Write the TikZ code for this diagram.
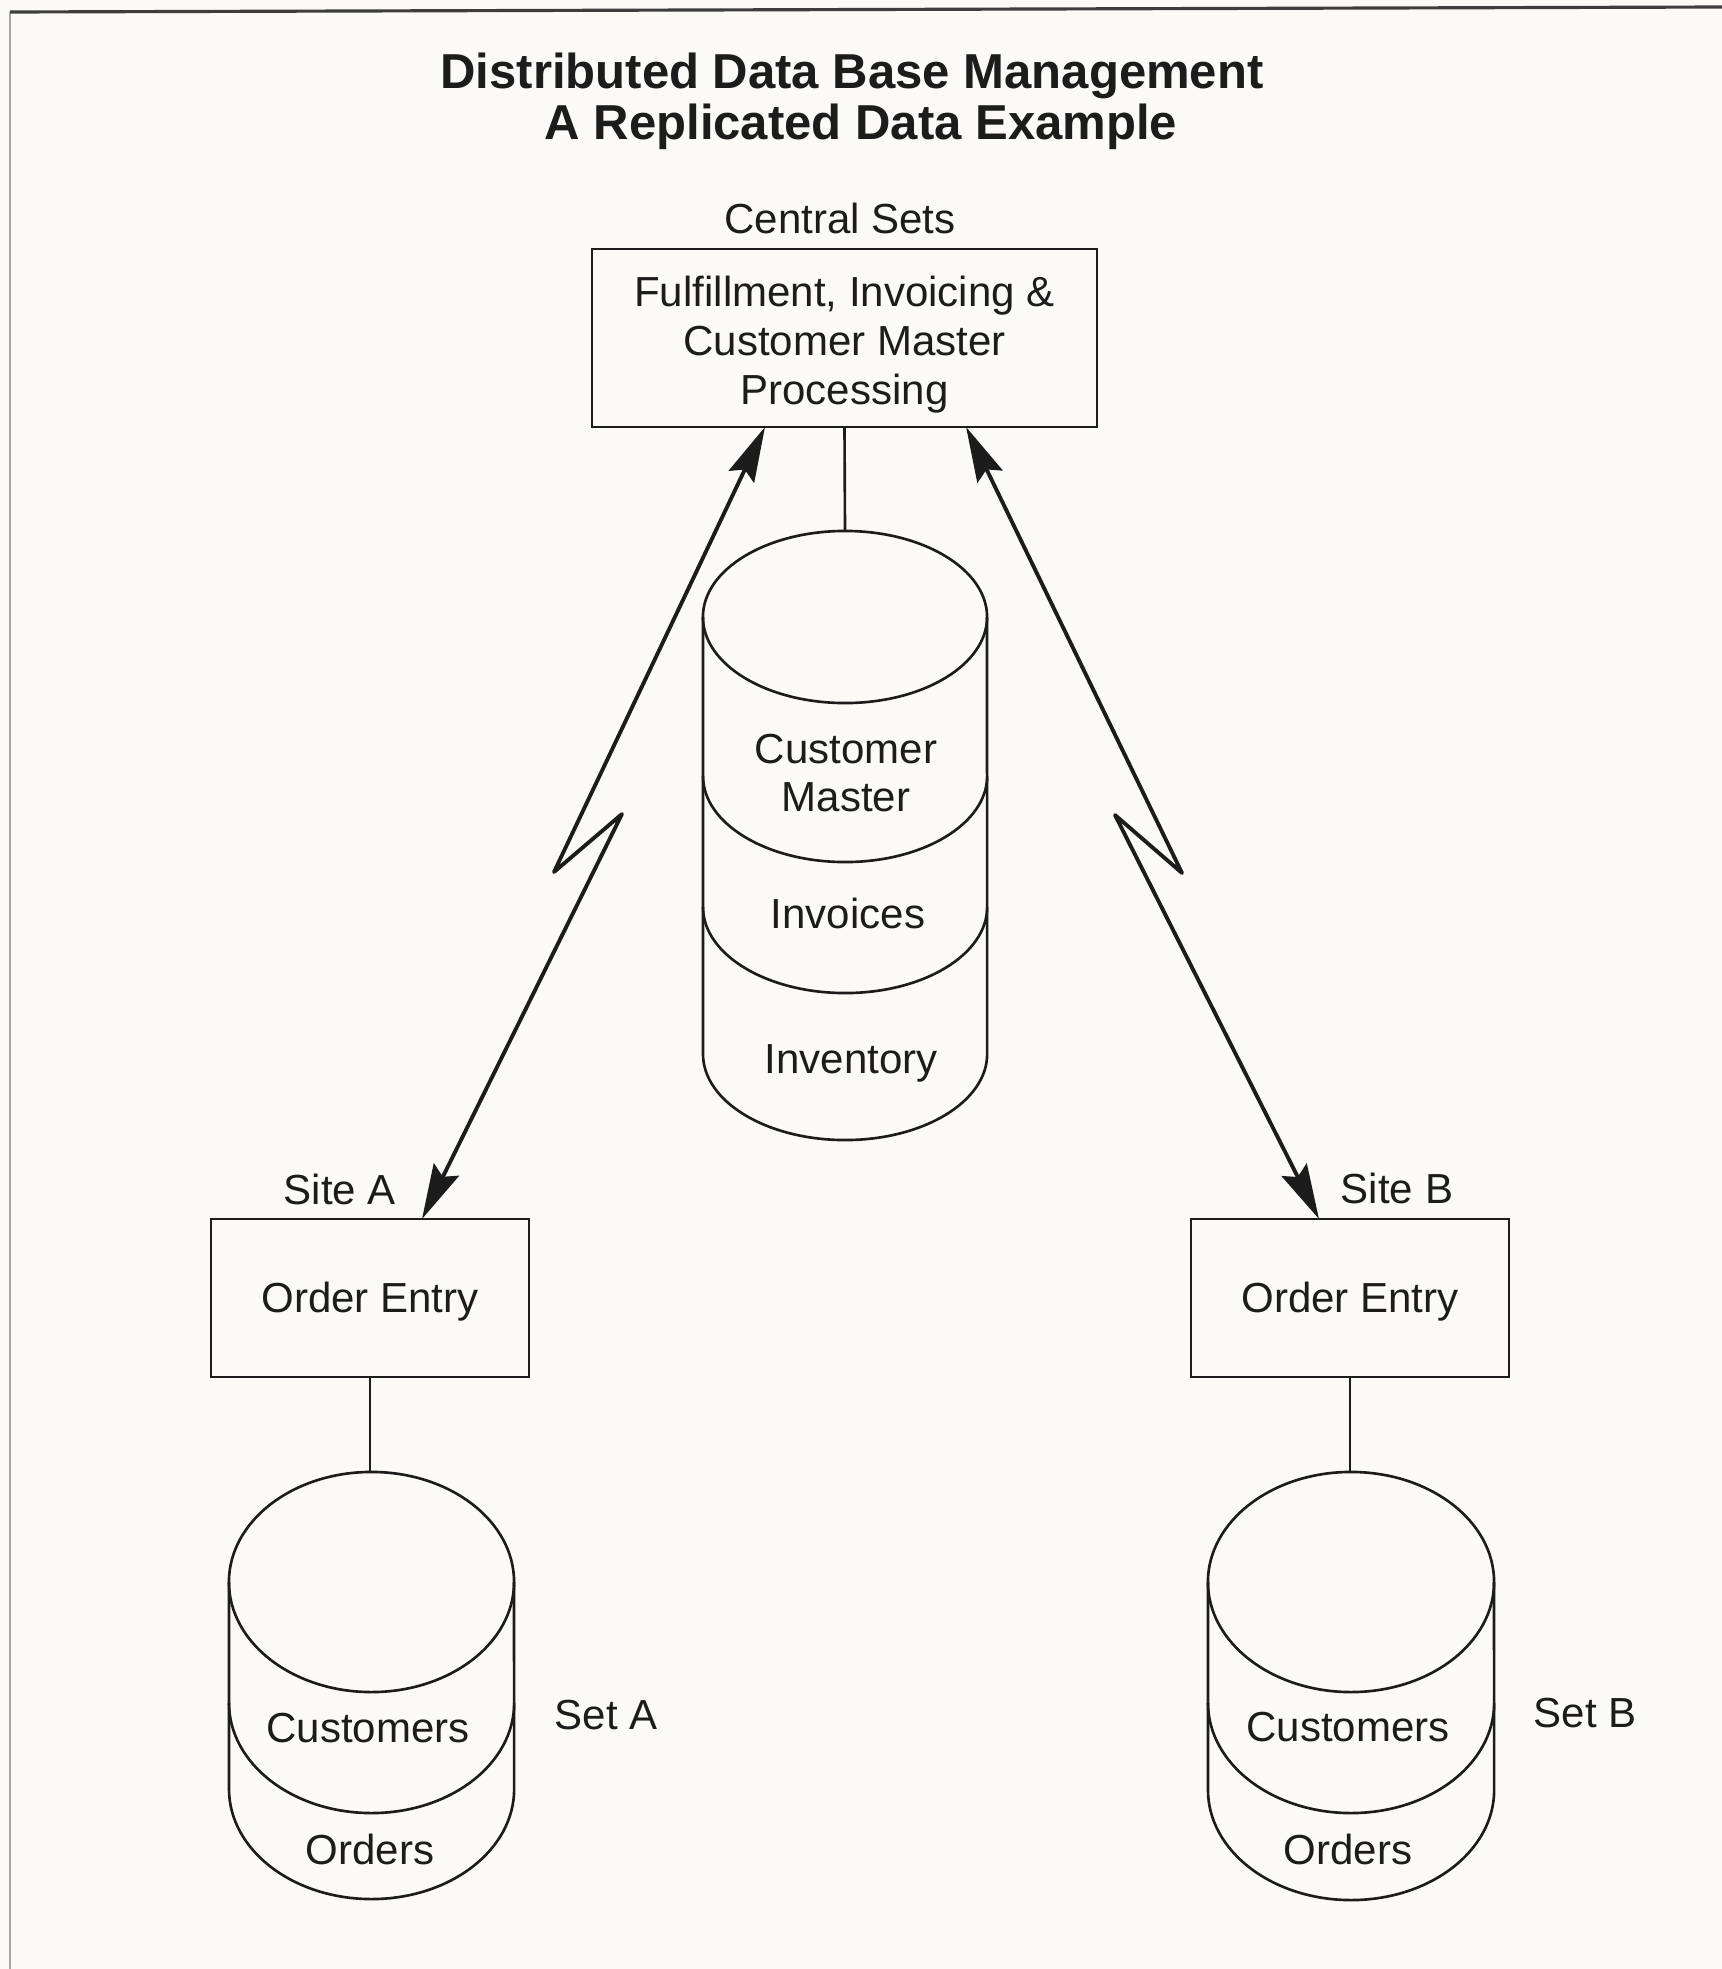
\documentclass[tikz,border=0pt]{standalone}
\usepackage{fontspec}
\setmainfont{Liberation Sans}
\usetikzlibrary{arrows.meta}
\definecolor{bgcol}{RGB}{251,250,246}
\definecolor{ink}{RGB}{28,28,28}
\newcommand\dropby[2]{\raisebox{-#1}[\height][\depth]{#2}}
\begin{document}
\begin{tikzpicture}[x={0.01cm},y={-0.01cm},
  every node/.style={text=ink,inner sep=0pt,outer sep=0pt},
  titletext/.style={font=\fontsize{13.95pt}{16pt}\selectfont\bfseries,anchor=base},
  lbl/.style={font=\fontsize{11.95pt}{13.9pt}\selectfont},
  boxnode/.style={draw=ink,line width=0.75pt,font=\fontsize{11.95pt}{13.9pt}\selectfont,align=center},
  thin/.style={draw=ink,line width=0.75pt},
  bolt/.style={draw=ink,line width=1.1pt,line join=round,
     {Stealth[length=0.55cm,width=0.28cm,inset=0.08cm]}-{Stealth[length=0.55cm,width=0.28cm,inset=0.08cm]}}
]
\useasboundingbox (0,0) rectangle (1722,1969);
\fill[bgcol] (0,0) rectangle (1722,1969);
% page frame (partial, as scanned)
\draw[gray!70,line width=0.8pt] (10,1969) -- (10,12);
\draw[ink!85,line width=0.9pt] (10,12) -- (1722,7);

% titles
\node[titletext] (t1) at (852,88) {Distributed Data Base Management};
\node[titletext] (t2) at (861,139) {A Replicated Data Example};

% central
\node[lbl,anchor=base] (cslbl) at (840,233) {Central Sets};
\node[boxnode,minimum width=5.05cm,minimum height=1.78cm] (central) at (844.5,338)
  {\dropby{0.075cm}{\begin{tabular}{@{}c@{}}Fulfillment, Invoicing \&\\Customer Master\\Processing\end{tabular}}};

% central cylinder
\coordinate (cylCtop) at (845,531);
\draw[thin] (703,617) -- (703,1054) arc[start angle=180,end angle=360,x radius=1.42cm,y radius=0.86cm] -- (987,617);
\draw[thin] (845,617) ellipse[x radius=1.42cm,y radius=0.86cm];
\draw[thin] (703,776) arc[start angle=180,end angle=360,x radius=1.42cm,y radius=0.86cm];
\draw[thin] (703,907) arc[start angle=180,end angle=360,x radius=1.42cm,y radius=0.86cm];
\node[lbl,align=center,font=\fontsize{11.95pt}{13.4pt}\selectfont] (cm) at (846,773) {Customer\\Master};
\node[lbl] (inv) at (848,913) {Invoices};
\node[lbl] (invt) at (851,1063) {Inventory};
\draw[thin] (central.south) -- (cylCtop);

% site A
\node[lbl] (siteAlbl) at (340,1189) {Site A};
\node[boxnode,minimum width=3.18cm,minimum height=1.58cm] (siteA) at (370,1298) {\dropby{0.04cm}{Order Entry}};
\coordinate (cylAtop) at (370,1472);
\draw[thin] (229,1582) -- (229,1789) arc[start angle=180,end angle=360,x radius=1.425cm,y radius=1.10cm] -- (514,1582);
\draw[thin] (371.5,1582) ellipse[x radius=1.425cm,y radius=1.10cm];
\draw[thin] (229,1703) arc[start angle=180,end angle=360,x radius=1.425cm,y radius=1.10cm];
\node[lbl] (custA) at (368,1728) {Customers};
\node[lbl] (ordA) at (370,1849) {Orders};
\node[lbl] (setA) at (606,1715) {Set A};
\draw[thin] (siteA.south) -- (cylAtop);

% site B
\node[lbl] (siteBlbl) at (1397,1188) {Site B};
\node[boxnode,minimum width=3.18cm,minimum height=1.58cm] (siteB) at (1350,1298) {\dropby{0.04cm}{Order Entry}};
\coordinate (cylBtop) at (1350,1471);
\draw[thin] (1208,1582) -- (1208,1790) arc[start angle=180,end angle=360,x radius=1.43cm,y radius=1.10cm] -- (1494,1582);
\draw[thin] (1351,1582) ellipse[x radius=1.43cm,y radius=1.10cm];
\draw[thin] (1208,1703) arc[start angle=180,end angle=360,x radius=1.43cm,y radius=1.10cm];
\node[lbl] (custB) at (1348,1727) {Customers};
\node[lbl] (ordB) at (1348,1849) {Orders};
\node[lbl] (setB) at (1585,1713) {Set B};
\draw[thin] (siteB.south) -- (cylBtop);

% lightning links
\coordinate (zA1) at (554,872);
\coordinate (zA2) at (622,814);
\coordinate (zB1) at (1182,873);
\coordinate (zB2) at (1115,815);
\draw[bolt] ([xshift=-0.795cm]central.south) -- (zA1) -- (zA2) -- ([xshift=0.52cm]siteA.north);
\draw[bolt] ([xshift=1.215cm]central.south) -- (zB1) -- (zB2) -- ([xshift=-0.31cm]siteB.north);
\end{tikzpicture}
\end{document}
